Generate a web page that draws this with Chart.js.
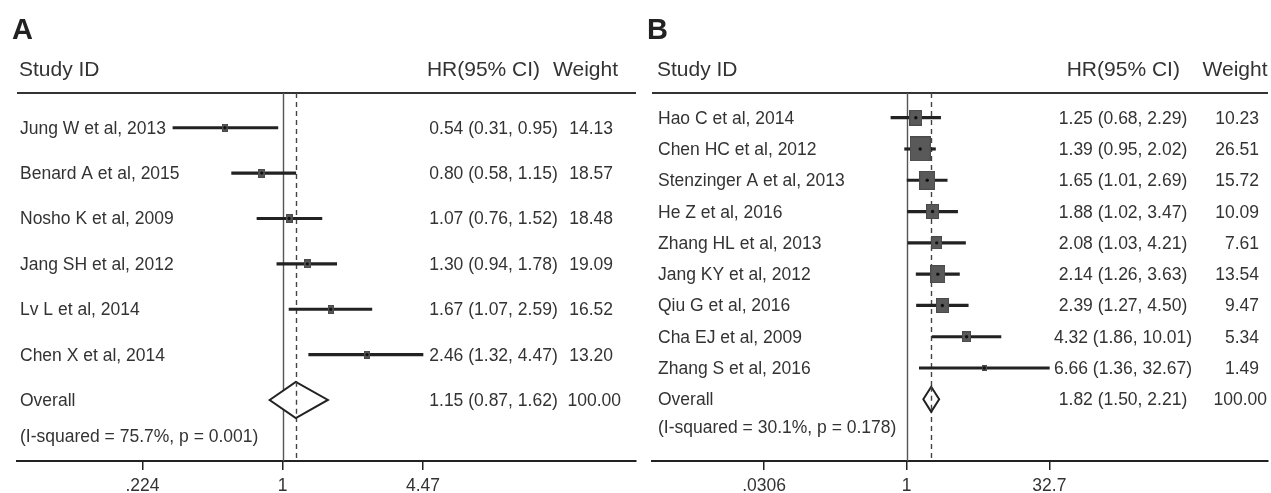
<!DOCTYPE html>
<html>
<head>
<meta charset="utf-8">
<script src="https://cdn.jsdelivr.net/npm/chart.js@4.4.1/dist/chart.umd.min.js"></script>
<style>
  html, body { margin: 0; padding: 0; background: #fff; width: 1271px; height: 493px; overflow: hidden; }
  canvas { position: absolute; left: 0; top: 0; }
</style>
</head>
<body>
<canvas id="panelA" width="1271" height="493"></canvas>
<canvas id="panelB" width="1271" height="493"></canvas>
<script>
// ---- Panel A: studies, hazard ratios, 95% CI bounds, weights ----
const studiesA = ['Jung W et al, 2013', 'Benard A et al, 2015', 'Nosho K et al, 2009',
                  'Jang SH et al, 2012', 'Lv L et al, 2014', 'Chen X et al, 2014'];
const hrA     = [0.54, 0.80, 1.07, 1.30, 1.67, 2.46];
const lowerA  = [0.31, 0.58, 0.76, 0.94, 1.07, 1.32];
const upperA  = [0.95, 1.15, 1.52, 1.78, 2.59, 4.47];
const weightA = [14.13, 18.57, 18.48, 19.09, 16.52, 13.20];
const overallA = [1.15, 0.87, 1.62];          // pooled HR, lower, upper
const overallWeightA = 100.00;
const hetA = '(I-squared = 75.7%, p = 0.001)';
const tickValuesA = [0.224, 1, 4.47];
const tickLabelsA = ['.224', '1', '4.47'];

// ---- Panel B ----
const studiesB = ['Hao C et al, 2014', 'Chen HC et al, 2012', 'Stenzinger A et al, 2013',
                  'He Z et al, 2016', 'Zhang HL et al, 2013', 'Jang KY et al, 2012',
                  'Qiu G et al, 2016', 'Cha EJ et al, 2009', 'Zhang S et al, 2016'];
const hrB     = [1.25, 1.39, 1.65, 1.88, 2.08, 2.14, 2.39, 4.32, 6.66];
const lowerB  = [0.68, 0.95, 1.01, 1.02, 1.03, 1.26, 1.27, 1.86, 1.36];
const upperB  = [2.29, 2.02, 2.69, 3.47, 4.21, 3.63, 4.50, 10.01, 32.67];
const weightB = [10.23, 26.51, 15.72, 10.09, 7.61, 13.54, 9.47, 5.34, 1.49];
const overallB = [1.82, 1.50, 2.21];
const overallWeightB = 100.00;
const hetB = '(I-squared = 30.1%, p = 0.178)';
const tickValuesB = [0.0306, 1, 32.7];
const tickLabelsB = ['.0306', '1', '32.7'];

const FAMILY = '"Liberation Sans", Arial, Helvetica, sans-serif';
const TEXT = '#333';
const INK = '#222';

const fmt = v => v.toFixed(2);
const ciText = (h, l, u) => `${fmt(h)} (${fmt(l)}, ${fmt(u)})`;

// weight box sprite: area grows with the study weight
function weightBox(w, kx, ky) {
  const c = document.createElement('canvas');
  c.width = Math.max(3, Math.round(kx * Math.sqrt(w)));
  c.height = Math.max(3, Math.round(ky * Math.sqrt(w)));
  const g = c.getContext('2d');
  g.fillStyle = '#595959';
  g.fillRect(0, 0, c.width, c.height);
  g.strokeStyle = '#4a4a4a';
  g.lineWidth = 1;
  g.strokeRect(0.5, 0.5, c.width - 1, c.height - 1);
  return c;
}

function forestPlot(canvasId, d, look) {
  const n = d.studies.length;
  const boxes = d.weight.map(w => weightBox(w, look.boxKx, look.boxKy));

  const plotDecor = {
    id: 'forestDecor',
    beforeDatasetsDraw(chart) {
      const { ctx, chartArea: a, scales: { x, y } } = chart;
      ctx.save();

      // panel letter
      ctx.fillStyle = INK;
      ctx.textBaseline = 'alphabetic';
      ctx.textAlign = 'left';
      ctx.font = `bold 29px ${FAMILY}`;
      ctx.fillText(d.letter, look.letterX, 39);

      // column headers
      ctx.fillStyle = TEXT;
      ctx.font = `21px ${FAMILY}`;
      ctx.fillText('Study ID', look.labelX - 1, 76);
      ctx.textAlign = 'center';
      ctx.fillText('HR(95% CI)', look.hrHeadX, 76);
      ctx.fillText('Weight', look.wHeadX, 76);

      // rule under the headers
      ctx.strokeStyle = '#333';
      ctx.lineWidth = 2;
      ctx.beginPath();
      ctx.moveTo(a.left, a.top);
      ctx.lineTo(a.right, a.top);
      ctx.stroke();

      // line of no effect
      const x1 = Math.round(x.getPixelForValue(1)) + 0.5;
      ctx.strokeStyle = '#555';
      ctx.lineWidth = 1.4;
      ctx.beginPath();
      ctx.moveTo(x1, a.top);
      ctx.lineTo(x1, a.bottom);
      ctx.stroke();

      // pooled estimate (dashed)
      const xo = Math.round(x.getPixelForValue(d.overall[0])) + 0.5;
      ctx.strokeStyle = '#444';
      ctx.lineWidth = 1.4;
      ctx.setLineDash([5, 4]);
      ctx.beginPath();
      ctx.moveTo(xo, a.top);
      ctx.lineTo(xo, a.bottom);
      ctx.stroke();
      ctx.setLineDash([]);

      // study rows
      ctx.fillStyle = TEXT;
      ctx.font = `17.5px ${FAMILY}`;
      d.studies.forEach((s, i) => {
        const yy = y.getPixelForValue(i) + 6;
        ctx.textAlign = 'left';
        ctx.fillText(s, look.labelX, yy);
        ctx.textAlign = 'center';
        ctx.fillText(ciText(d.hr[i], d.lower[i], d.upper[i]), look.hrX, yy);
        ctx.textAlign = 'right';
        ctx.fillText(fmt(d.weight[i]), look.wRight, yy);
      });

      // overall row
      const yo = y.getPixelForValue(n) + 6;
      ctx.textAlign = 'left';
      ctx.fillText('Overall', look.labelX, yo);
      ctx.fillText(d.het, look.labelX, yo + look.hetOffset);
      ctx.textAlign = 'center';
      ctx.fillText(ciText(d.overall[0], d.overall[1], d.overall[2]), look.hrX, yo);
      ctx.textAlign = 'right';
      ctx.fillText(fmt(d.overallWeight), look.wOverallRight, yo);

      ctx.restore();
    },
    afterDatasetsDraw(chart) {
      const { ctx, scales: { x, y } } = chart;
      const [h, l, u] = d.overall;
      const xc = x.getPixelForValue(h);
      const xl = x.getPixelForValue(l);
      const xr = x.getPixelForValue(u);
      const yc = y.getPixelForValue(n);
      const yt = y.getPixelForValue(n - look.diamondHalf);
      const yb = y.getPixelForValue(n + look.diamondHalf);
      ctx.save();
      ctx.beginPath();
      ctx.moveTo(xl, yc);
      ctx.lineTo(xc, yt);
      ctx.lineTo(xr, yc);
      ctx.lineTo(xc, yb);
      ctx.closePath();
      ctx.fillStyle = '#fff';
      ctx.fill();
      ctx.strokeStyle = INK;
      ctx.lineWidth = 2;
      ctx.lineJoin = 'miter';
      ctx.stroke();
      // dashed pooled line continues through the diamond
      const xo = Math.round(xc) + 0.5;
      ctx.strokeStyle = '#444';
      ctx.lineWidth = 1.4;
      ctx.setLineDash([5, 4]);
      ctx.beginPath();
      ctx.moveTo(xo, yt);
      ctx.lineTo(xo, yb);
      ctx.stroke();
      ctx.restore();
    }
  };

  return new Chart(document.getElementById(canvasId), {
    type: 'bar',
    data: {
      datasets: [
        {
          // 95% confidence intervals
          type: 'bar',
          data: d.lower.map((l, i) => ({ x: [l, d.upper[i]], y: i })),
          backgroundColor: INK,
          borderWidth: 0,
          barThickness: 2.5,
          order: 3
        },
        {
          // study weight boxes
          type: 'scatter',
          data: d.hr.map((v, i) => ({ x: v, y: i })),
          pointStyle: c => boxes[c.dataIndex],
          pointRadius: c => boxes[c.dataIndex].width / 2,
          borderWidth: 0,
          order: 2
        },
        {
          // point estimates
          type: 'scatter',
          data: d.hr.map((v, i) => ({ x: v, y: i })),
          pointStyle: 'circle',
          pointRadius: 1.7,
          backgroundColor: '#111',
          borderWidth: 0,
          order: 1
        }
      ]
    },
    options: {
      responsive: false,
      animation: false,
      events: [],
      indexAxis: 'y',
      layout: {
        autoPadding: false,
        padding: { left: look.left, right: 1271 - look.right, top: 93, bottom: 0 }
      },
      plugins: { legend: { display: false }, tooltip: { enabled: false } },
      scales: {
        x: {
          type: 'logarithmic',
          min: look.xMin,
          max: look.xMax,
          offset: false,
          afterBuildTicks: s => { s.ticks = d.tickValues.map(v => ({ value: v })); },
          afterFit: s => { s.height = 32; s.paddingLeft = 0; s.paddingRight = 0; },
          ticks: {
            callback: (v, i) => d.tickLabels[i],
            autoSkip: false,
            maxRotation: 0,
            padding: 6,
            color: TEXT,
            font: { family: FAMILY, size: 17.5 }
          },
          grid: { display: true, drawOnChartArea: false, drawTicks: true, tickLength: 9, color: INK, lineWidth: 1.5 },
          border: { display: true, color: INK, width: 2 }
        },
        y: {
          type: 'linear',
          display: false,
          reverse: true,
          offset: false,
          min: look.yMin,
          max: look.yMax
        }
      }
    },
    plugins: [plotDecor]
  });
}

forestPlot('panelA', {
  letter: 'A', studies: studiesA, hr: hrA, lower: lowerA, upper: upperA, weight: weightA,
  overall: overallA, overallWeight: overallWeightA, het: hetA,
  tickValues: tickValuesA, tickLabels: tickLabelsA
}, {
  letterX: 12, left: 17, right: 636, xMin: 0.0587, xMax: 43.4, yMin: -0.765, yMax: 7.345,
  labelX: 20, hrX: 493.5, hrHeadX: 483.5, wHeadX: 585.5, wRight: 613, wOverallRight: 621,
  boxKx: 1.55, boxKy: 2.15, diamondHalf: 0.4, hetOffset: 36
});

forestPlot('panelB', {
  letter: 'B', studies: studiesB, hr: hrB, lower: lowerB, upper: upperB, weight: weightB,
  overall: overallB, overallWeight: overallWeightB, het: hetB,
  tickValues: tickValuesB, tickLabels: tickLabelsB
}, {
  letterX: 647, left: 652, right: 1268, xMin: 0.001977, xMax: 6846, yMin: -0.789, yMax: 10.972,
  labelX: 658, hrX: 1123, hrHeadX: 1123.3, wHeadX: 1235, wRight: 1259, wOverallRight: 1267,
  boxKx: 4.1, boxKy: 4.85, diamondHalf: 0.4, hetOffset: 28
});
</script>
</body>
</html>
